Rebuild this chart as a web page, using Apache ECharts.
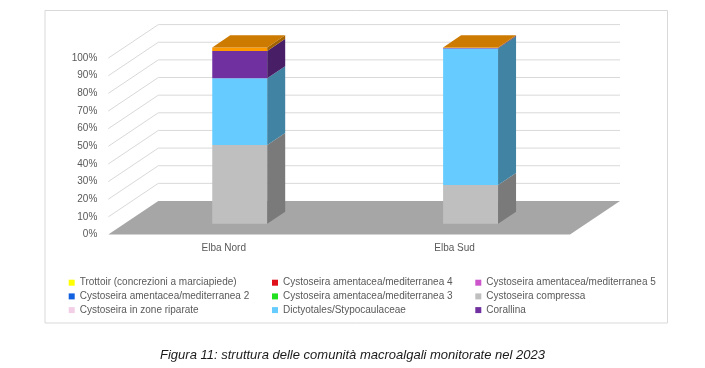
<!DOCTYPE html>
<html>
<head>
<meta charset="utf-8">
<script src="https://cdn.jsdelivr.net/npm/echarts@6/dist/echarts.min.js"></script>
<style>html,body{margin:0;padding:0;background:#fff}#c{width:705px;height:368px}</style>
</head>
<body>
<div id="c"></div>
<script>
// ---- data ----
var categories = ['Elba Nord', 'Elba Sud'];
var yTicks = [0, 10, 20, 30, 40, 50, 60, 70, 80, 90, 100];
var trottoir    = [0, 0];
var cam4        = [0, 0];
var cam5        = [0, 0];
var cam2        = [0, 0];
var cam3        = [0, 0];
var compressa   = [44.6, 22.0];
var riparate    = [0, 0];
var dictyotales = [37.9, 77.4];
var corallina   = [15.5, 0.3];
var altro       = [2.0, 0.3];

var seriesNames = [
  'Trottoir (concrezioni a marciapiede)',
  'Cystoseira amentacea/mediterranea 4',
  'Cystoseira amentacea/mediterranea 5',
  'Cystoseira amentacea/mediterranea 2',
  'Cystoseira amentacea/mediterranea 3',
  'Cystoseira compressa',
  'Cystoseira in zone riparate',
  'Dictyotales/Stypocaulaceae',
  'Corallina',
  'Altro'
];
var seriesValues = [trottoir, cam4, cam5, cam2, cam3, compressa, riparate, dictyotales, corallina, altro];

// ---- style ----
var colors = ['#ffff00', '#e0101a', '#cc55cc', '#1060e0', '#20e020', '#bfbfbf', '#f2cfe6', '#66ccff', '#7030a0', '#ff9900'];
var DX = 50, DY = -33.5;        // full depth vector
var D_FRONT = 0.32, D_BACK = 0.68;
var BAR_W = 0.238;
var FONT = "'Liberation Sans', Arial, sans-serif";

function shade(hex, k) {
  var n = parseInt(hex.slice(1), 16);
  var r = Math.round(((n >> 16) & 255) * k), g = Math.round(((n >> 8) & 255) * k), b = Math.round((n & 255) * k);
  return 'rgb(' + r + ',' + g + ',' + b + ')';
}

// stacked extents
var stackBase = categories.map(function () { return 0; });
var topIndex = categories.map(function (c, i) {
  var t = -1;
  seriesValues.forEach(function (arr, s) { if (arr[i] > 0) t = s; });
  return t;
});
var barSeries = seriesValues.map(function (arr, s) {
  var data = arr.map(function (v, i) {
    var lo = stackBase[i], hi = lo + v;
    stackBase[i] = hi;
    return [i, lo, hi, topIndex[i] === s ? 1 : 0];
  });
  var col = colors[s];
  return {
    name: seriesNames[s],
    type: 'custom',
    coordinateSystem: 'cartesian2d',
    itemStyle: { color: col },
    encode: { x: 0, y: [1, 2] },
    clip: false,
    z: 3,
    silent: true,
    data: data,
    renderItem: function (params, api) {
      var cat = api.value(0), lo = api.value(1), hi = api.value(2), isTop = api.value(3);
      if (hi - lo <= 0) return;
      var pb = api.coord([cat, lo]), pt = api.coord([cat, hi]);
      var bw = api.size([1, 0])[0] * BAR_W;
      var x0 = pb[0] - bw / 2 + DX * D_FRONT;
      var yb = pb[1] + DY * D_FRONT, yt = pt[1] + DY * D_FRONT;
      var ddx = DX * (D_BACK - D_FRONT), ddy = DY * (D_BACK - D_FRONT);
      var x1 = x0 + bw;
      var children = [
        { type: 'rect', shape: { x: x0, y: yt, width: bw, height: yb - yt }, style: { fill: col } },
        { type: 'polygon', shape: { points: [[x1, yb], [x1, yt], [x1 + ddx, yt + ddy], [x1 + ddx, yb + ddy]] }, style: { fill: shade(col, 0.64) } }
      ];
      if (isTop) {
        children.push({ type: 'polygon', shape: { points: [[x0, yt], [x1, yt], [x1 + ddx, yt + ddy], [x0 + ddx, yt + ddy]] }, style: { fill: shade(col, 0.8) } });
      }
      return { type: 'group', children: children };
    }
  };
});

var wallSeries = {
  name: 'walls',
  type: 'custom',
  coordinateSystem: 'cartesian2d',
  encode: { x: 0, y: 1 },
  clip: false,
  silent: true,
  z: 1,
  data: yTicks.map(function (v) { return [0, v]; }),
  renderItem: function (params, api) {
    var cs = params.coordSys;
    var v = api.value(1);
    var y = api.coord([0, v])[1];
    var xl = cs.x, xr = cs.x + cs.width;
    if (v === 0) {
      return { type: 'polygon', shape: { points: [[xl, y], [xr, y], [xr + DX, y + DY], [xl + DX, y + DY]] }, style: { fill: '#a6a6a6' } };
    }
    return {
      type: 'group', children: [
        { type: 'line', shape: { x1: xl, y1: y, x2: xl + DX, y2: y + DY }, style: { stroke: '#d9d9d9', lineWidth: 1 } },
        { type: 'line', shape: { x1: xl + DX, y1: y + DY, x2: xr + DX, y2: y + DY }, style: { stroke: '#d9d9d9', lineWidth: 1 } }
      ]
    };
  }
};

function legendCol(left, names) {
  return {
    orient: 'vertical', left: left, top: 276.7, padding: 0,
    itemWidth: 6, itemHeight: 6, itemGap: 1.7, icon: 'rect',
    selectedMode: false,
    textStyle: { fontFamily: FONT, fontSize: 10, color: '#595959', lineHeight: 12 },
    data: names
  };
}

var chart = echarts.init(document.getElementById('c'), null, { renderer: 'canvas' });
chart.setOption({
  animation: false,
  backgroundColor: '#fff',
  title: {
    text: 'Figura 11: struttura delle comunità macroalgali monitorate nel 2023',
    left: 'center', top: 344,
    textStyle: { fontFamily: FONT, fontSize: 13, fontStyle: 'italic', fontWeight: 'normal', color: '#1a1a1a' }
  },
  graphic: [{
    type: 'rect', shape: { x: 45, y: 10.5, width: 622.5, height: 312.5 },
    style: { fill: 'none', stroke: '#d9d9d9', lineWidth: 1 }, z: 0, silent: true
  }],
  legend: [
    legendCol(68.7, [seriesNames[0], seriesNames[3], seriesNames[6]]),
    legendCol(272, [seriesNames[1], seriesNames[4], seriesNames[7]]),
    legendCol(475.3, [seriesNames[2], seriesNames[5], seriesNames[8]])
  ],
  grid: { left: 108.3, right: 135, top: 58.1, bottom: 133.5, containLabel: false },
  xAxis: {
    type: 'category', data: categories,
    axisLine: { show: false }, axisTick: { show: false }, splitLine: { show: false },
    axisLabel: { fontFamily: FONT, fontSize: 10, color: '#595959', margin: 9 }
  },
  yAxis: {
    type: 'value', min: 0, max: 100, interval: 10,
    axisLine: { show: false }, axisTick: { show: false }, splitLine: { show: false },
    axisLabel: { fontFamily: FONT, fontSize: 10, color: '#595959', margin: 11, padding: [3, 0, 0, 0], formatter: '{value}%' }
  },
  series: [wallSeries].concat(barSeries)
});
</script>
</body>
</html>
